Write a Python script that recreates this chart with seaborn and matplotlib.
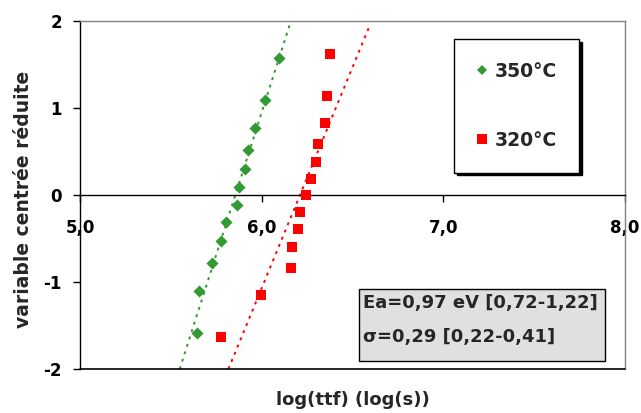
import matplotlib
matplotlib.use('Agg')
import matplotlib.pyplot as plt
import numpy as np
import pandas as pd
import seaborn as sns
from matplotlib.lines import Line2D
from matplotlib.patches import Rectangle
from matplotlib.ticker import FuncFormatter

sns.set_theme(style='white')
plt.rcParams['font.family'] = ['DejaVu Sans']
plt.rcParams['font.weight'] = 'bold'

# données
x_350 = [5.646, 5.657, 5.725, 5.777, 5.801, 5.865, 5.878, 5.911, 5.926, 5.964, 6.021, 6.096]
y_350 = [-1.590, -1.100, -0.785, -0.525, -0.307, -0.111, 0.096, 0.299, 0.521, 0.770, 1.088, 1.578]
x_320 = [5.775, 5.997, 6.164, 6.168, 6.201, 6.210, 6.245, 6.274, 6.298, 6.309, 6.348, 6.359, 6.376]
y_320 = [-1.632, -1.149, -0.835, -0.598, -0.391, -0.191, 0.0, 0.180, 0.379, 0.590, 0.828, 1.141, 1.624]

# droites d'ajustement : x = mu + pente * y
fit_mu = {'350°C': 5.855, '320°C': 6.211}
fit_pente = {'350°C': 0.153, '320°C': 0.197}
fit_y_range = {'350°C': (-2.0, 1.97), '320°C': (-2.0, 1.94)}

couleurs = {'350°C': '#339933', '320°C': '#ff0000'}
marqueurs = {'350°C': 'D', '320°C': 's'}
tailles = {'350°C': 38, '320°C': 52}

x_ticks = [5.0, 6.0, 7.0, 8.0]
y_ticks = [-2, -1, 0, 1, 2]
texte_ea = 'Ea=0,97 eV [0,72-1,22]\nσ=0,29 [0,22-0,41]'

series = {
    '350°C': pd.DataFrame({'logttf': x_350, 'z': y_350}),
    '320°C': pd.DataFrame({'logttf': x_320, 'z': y_320}),
}

fig = plt.figure(figsize=(6.41, 4.13), dpi=100)
ax = fig.add_axes([0.1248, 0.1065, 0.8502, 0.8426])

# droites pointillées
for t in ['350°C', '320°C']:
    yy = np.array(fit_y_range[t])
    xx = fit_mu[t] + fit_pente[t] * yy
    ax.plot(xx, yy, color=couleurs[t], linestyle=(0, (1.5, 2.5)), lw=1.4, zorder=2)

for t, d in series.items():
    sns.scatterplot(data=d, x='logttf', y='z', color=couleurs[t], marker=marqueurs[t],
                    s=tailles[t], linewidth=0, legend=False, ax=ax, zorder=3)

ax.set_xlim(5, 8)
ax.set_ylim(-2, 2)
ax.set_xticks(x_ticks)
ax.set_yticks(y_ticks)
ax.xaxis.set_major_formatter(FuncFormatter(lambda v, p: f'{v:.1f}'.replace('.', ',')))
ax.yaxis.set_major_formatter(FuncFormatter(lambda v, p: f'{v:.0f}'))

# axes à la Excel
ax.spines['bottom'].set_position(('data', 0))
ax.spines['bottom'].set_color('black')
ax.spines['left'].set_color('black')
ax.spines['top'].set_color('#808080')
ax.spines['right'].set_color('#808080')
for s in ax.spines.values():
    s.set_linewidth(1)
ax.axhline(-2, color='black', lw=1.2, clip_on=False, zorder=4)

ax.tick_params(axis='x', direction='out', length=5, width=1, pad=12,
               labelsize=12, colors='black', bottom=True)
ax.tick_params(axis='y', direction='out', length=5, width=1, pad=8,
               labelsize=12, colors='black', left=True)

ax.set_xlabel('')
ax.set_ylabel('')
fig.text(0.551, 0.031, 'log(ttf) (log(s))', ha='center', va='center',
         fontsize=13, fontweight='bold')
fig.text(0.037, 0.518, 'variable centrée réduite', ha='center', va='center',
         rotation=90, fontsize=13.5, fontweight='bold')

# légende
handles = [Line2D([], [], marker=marqueurs[t], color=couleurs[t], linestyle='',
                  markersize=5 if t == '350°C' else 7.2, markeredgewidth=0)
           for t in ['350°C', '320°C']]
leg = ax.legend(handles, ['350°C', '320°C'], loc='upper left',
                bbox_to_anchor=(0.687, 0.947), frameon=True, fancybox=False,
                shadow={'color': 'black', 'alpha': 1}, edgecolor='black',
                prop={'size': 13.5, 'weight': 'bold'}, borderpad=1.2,
                labelspacing=2.67, handlelength=0.5, handletextpad=0.43,
                borderaxespad=0)
leg.get_frame().set_linewidth(1)

# encadré Ea / sigma
ax.add_patch(Rectangle((0.512, 0.023), 0.451, 0.207, transform=ax.transAxes,
                       facecolor='#e0e0e0', edgecolor='black', lw=1, zorder=5))
ax.text(0.519, 0.141, texte_ea, transform=ax.transAxes, ha='left', va='center',
        fontsize=13, fontweight='bold', linespacing=2.1, zorder=6)

fig.savefig('out.png', dpi=100)
